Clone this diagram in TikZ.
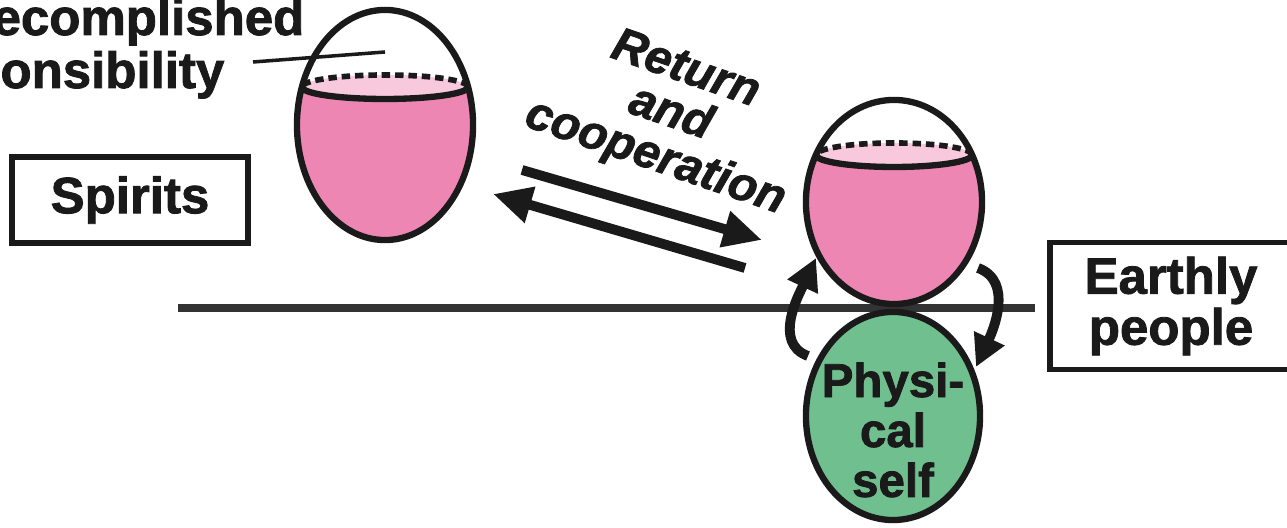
\documentclass[tikz,border=0pt]{standalone}
\usepackage{fontspec}
\setmainfont{Liberation Sans}[BoldFeatures={FakeBold=1.6},BoldItalicFeatures={FakeBold=1.6}]
\usetikzlibrary{arrows.meta,shapes.geometric,calc}
\definecolor{ink}{HTML}{1a1a1a}
\definecolor{soul}{HTML}{EE86B4}
\definecolor{surf}{HTML}{F8C8DD}
\definecolor{flesh}{HTML}{70BF8E}
\definecolor{ground}{HTML}{333333}

\begin{document}
\begin{tikzpicture}[x=0.01cm,y=0.01cm,
  lbl/.style={font=\bfseries\fontsize{14.5}{13}\selectfont,align=center,text=ink},
  tag/.style={lbl,draw=ink,line width=1.5pt,inner sep=0pt},
  egg/.style={ellipse,draw=ink,line width=1.8pt,inner sep=0pt},
  rim/.style={ink,line width=1.8pt},
  dots/.style={ink,line width=1.6pt,dash pattern=on 2.4pt off 1.4pt},
  flow/.style={ink,line width=2.8pt,-{Triangle[length=11pt,width=10pt]}},
  turn/.style={ink,line width=2.8pt,-{Triangle[length=9pt,width=9pt]}}]
 \useasboundingbox (0,0) rectangle (1287,528);
 \coordinate (gl) at (178,220);
 \coordinate (gr) at (1035,220);
 \draw[ground,line width=2.4pt] (gl) -- (gr);
 \node[lbl,anchor=base east,inner sep=0pt] (ac) at (305,493) {ecomplished};
 \node[lbl,anchor=base east,inner sep=0pt] (rs) at (225,440) {onsibility};
 \node[tag,minimum width=2.36cm,minimum height=0.86cm] (sr) at (130,328) {Spirits};
 \node[tag,minimum width=2.42cm,minimum height=1.27cm] (ep) at (1171,222) {Earthly\\people};
 \begin{scope}
  \clip (385,403) ellipse [x radius=88,y radius=115];
  \fill[soul] (290,441) rectangle (480,280);
  \fill[surf] (385,441) ellipse [x radius=83,y radius=12];
 \end{scope}
 \draw[dots] (468,441) arc[start angle=0,end angle=180,x radius=83,y radius=12];
 \draw[rim] (302,441) arc[start angle=180,end angle=360,x radius=83,y radius=12];
 \node[egg,minimum width=1.76cm,minimum height=2.3cm] (sp) at (385,403) {};
 \begin{scope}
  \clip (894,326) ellipse [x radius=88,y radius=102];
  \fill[soul] (800,373) rectangle (990,220);
  \fill[surf] (894,373) ellipse [x radius=78,y radius=12];
 \end{scope}
 \draw[dots] (972,373) arc[start angle=0,end angle=180,x radius=78,y radius=12];
 \draw[rim] (816,373) arc[start angle=180,end angle=360,x radius=78,y radius=12];
 \node[egg,minimum width=1.76cm,minimum height=2.04cm] (so) at (894,326) {};
 \node[egg,fill=flesh,minimum width=1.74cm,minimum height=2.08cm] (ph) at (893,112) {};
 \node[lbl,font=\bfseries\fontsize{13.5}{14.2}\selectfont] (pt) at (893,98) {Physi-\\cal\\self};
 \coordinate (pa) at (253,466);
 \coordinate (pb) at (385,476);
 \draw[ink,line width=1pt] (pa) -- (pb);
 \node[lbl,font=\bfseries\itshape\fontsize{13.5}{13.2}\selectfont,rotate=-19] (rc) at (670,413) {Return\\and\\cooperation};
 \coordinate (a1) at (522,358);
 \coordinate (a2) at (762,288);
 \coordinate (b1) at (745,260);
 \coordinate (b2) at (493,334);
 \draw[flow] (a1) -- (a2);
 \draw[flow] (b1) -- (b2);
 \coordinate (l1) at (808,172);
 \coordinate (l2) at (816,270);
 \coordinate (r1) at (978,260);
 \coordinate (r2) at (976,161);
 \draw[turn] (l1) to[out=160,in=-115] (l2);
 \draw[turn] (r1) to[out=-20,in=65] (r2);
\end{tikzpicture}
\end{document}
